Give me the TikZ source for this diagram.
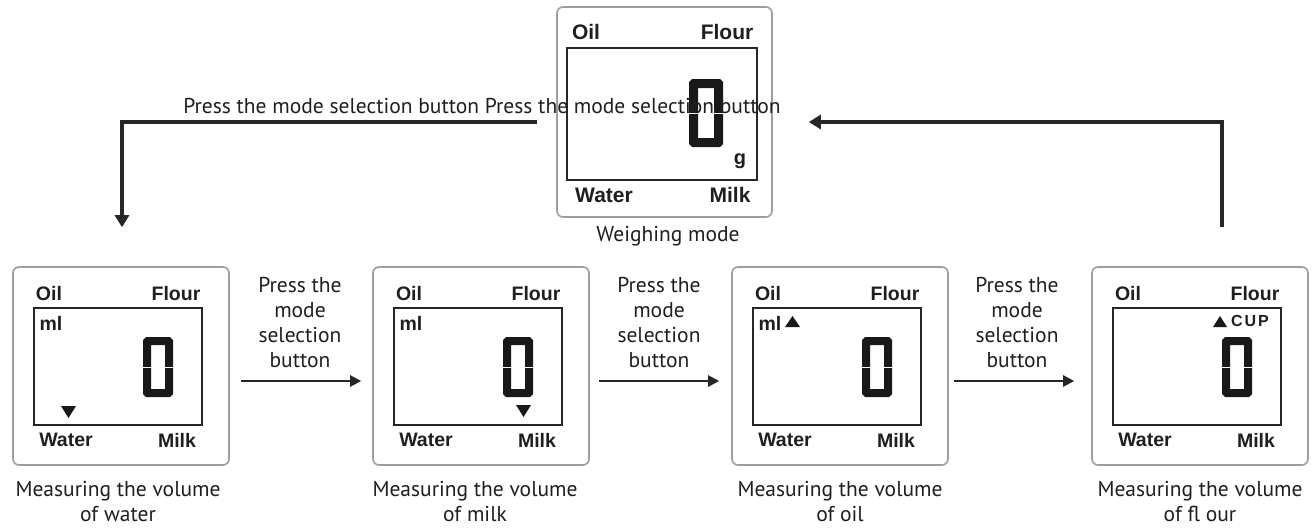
\documentclass[tikz,border=0pt]{standalone}
\usepackage{fontspec}
\setmainfont{PT Sans}
\newfontfamily\lcdfont{Liberation Sans}
\usetikzlibrary{calc,arrows.meta}

\tikzset{
  outerbox/.style={draw=black!38, line width=1.6pt, rounded corners=6pt, fill=white, inner sep=0pt},
  screen/.style={draw=black!85, line width=1.8pt},
  lcd/.style={font=\lcdfont\bfseries\fontsize{19.5}{19.5}\selectfont, text=black!88, inner sep=0pt},
  biglcd/.style={font=\lcdfont\bfseries\fontsize{21}{21}\selectfont, text=black!88, inner sep=0pt},
  capt/.style={font=\fontsize{21.5}{25}\selectfont, align=center, text=black!88, inner sep=0pt},
  arr/.style={draw=black!85, line width=3.4pt, -{Triangle[length=12pt,width=14pt]}},
  thinarr/.style={draw=black!85, line width=2.4pt, -{Triangle[length=11pt,width=11pt]}},
}

% seven-segment style zero: left, top, right, bottom (y grows downward), thickness
\newcommand\lcdzero[5]{%
  \fill[black!90, even odd rule]
    ({#1+3},#2) -- ({#3-3},#2) -- (#3,{#2+3}) -- (#3,{#4-3}) -- ({#3-3},#4) -- ({#1+3},#4) -- (#1,{#4-3}) -- (#1,{#2+3}) -- cycle
    ({#1+#5},{#2+#5}) rectangle ({#3-#5},{#4-#5});
  \draw[white, line width=0.7pt] (#1,{(#2+#4)/2}) -- ({#1+#5},{(#2+#4)/2});
  \draw[white, line width=0.7pt] (#3,{(#2+#4)/2}) -- ({#3-#5},{(#2+#4)/2});
}

\newcommand\lcdpanel[3]{%
  \node[outerbox, minimum width=216pt, minimum height=198pt] (#1) at (#2,#3) {};
  \begin{scope}[shift={(#2,#3)}]
    \draw[screen] (-87,-58) rectangle (81,59);
    \node[lcd] at (-72,-72) {Oil};
    \node[lcd] at (55,-72) {Flour};
    \node[lcd] at (-55,74) {Water};
    \node[lcd] at (56,74) {Milk};
    \lcdzero{22}{-29}{52}{31}{8}
  \end{scope}}

\begin{document}
\begin{tikzpicture}[x=1pt,y=-1pt]
\useasboundingbox (0,0) rectangle (1312,528);

% ---------- top display: weighing mode ----------
\node[outerbox, minimum width=215pt, minimum height=210pt] (d0) at (664.5,112) {};
\begin{scope}[shift={(664.5,112)}]
  \draw[screen] (-97.5,-64) rectangle (92.5,68);
  \node[biglcd] at (-78.5,-80) {Oil};
  \node[biglcd] at (62.5,-80) {Flour};
  \node[biglcd] at (-60.5,83) {Water};
  \node[biglcd] at (65.5,83) {Milk};
  \lcdzero{24.5}{-33}{58.5}{35}{9}
  \node[lcd, font=\lcdfont\bfseries\fontsize{20}{20}\selectfont] at (75.5,49) {g};
\end{scope}
\node[capt] (c0) at ($(d0.south)+(3.5,18)$) {Weighing mode};

% ---------- bottom displays ----------
\lcdpanel{d1}{121}{366}
\begin{scope}[shift={(121,366)}]
  \node[lcd] at (-70,-43) {ml};
  \fill[black!90] (-60,40) -- (-45,40) -- (-52.5,52) -- cycle;
\end{scope}

\lcdpanel{d2}{481}{366}
\begin{scope}[shift={(481,366)}]
  \node[lcd] at (-70,-43) {ml};
  \fill[black!90] (35,39) -- (50,39) -- (42.5,51) -- cycle;
\end{scope}

\lcdpanel{d3}{840}{366}
\begin{scope}[shift={(840,366)}]
  \node[lcd] at (-70,-43) {ml};
  \fill[black!90] (-55,-39) -- (-40,-39) -- (-47.5,-50) -- cycle;
\end{scope}

\lcdpanel{d4}{1200}{366}
\begin{scope}[shift={(1200,366)}]
  \fill[black!90] (13,-39) -- (27,-39) -- (20,-50) -- cycle;
  \node[lcd, font=\lcdfont\bfseries\fontsize{16}{16}\selectfont\addfontfeature{LetterSpace=12}] at (50,-45) {CUP};
\end{scope}

% ---------- captions ----------
\node[capt] (c1) at ($(d1.south)+(-3,36)$) {Measuring the volume\\of water};
\node[capt] (c2) at ($(d2.south)+(-6,36)$) {Measuring the volume\\of milk};
\node[capt] (c3) at ($(d3.south)+(0,36)$) {Measuring the volume\\of oil};
\node[capt] (c4) at ($(d4.south)+(0,36)$) {Measuring the volume\\of fl our};

% ---------- arrows between bottom displays ----------
\draw[thinarr] ($(d1.east)+(11,15)$) -- ($(d2.west)+(-11,15)$);
\draw[thinarr] ($(d2.east)+(9,15)$) -- ($(d3.west)+(-12,15)$);
\draw[thinarr] ($(d3.east)+(5,15)$) -- ($(d4.west)+(-17,15)$);

\node[capt] (l1) at (300,323) {Press the\\mode\\selection\\button};
\node[capt] (l2) at (659,323) {Press the\\mode\\selection\\button};
\node[capt] (l3) at (1017,323) {Press the\\mode\\selection\\button};

% ---------- top loop connectors ----------
\draw[arr] ($(d0.west)+(-19,10)$) -| ($(d1.north)+(1,-39)$);
\draw[arr] ($(d4.north)+(22,-39)$) |- ($(d0.east)+(36,10)$);

\node[capt] (tl) at (482,106) {Press the mode selection button Press the mode selection button};
\end{tikzpicture}
\end{document}
